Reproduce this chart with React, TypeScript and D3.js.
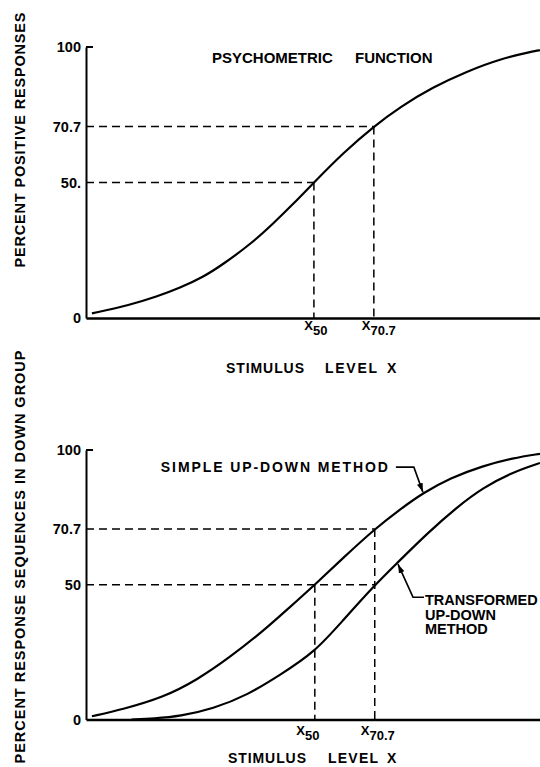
import React, { useEffect, useRef } from "react";
import * as d3 from "d3";

// Upper panel: psychometric function (stimulus level, percent positive)
const psyStimulus = [1.3, 9.7, 15.6, 20.7, 25.8, 30.2, 36.8, 41.2, 45.6, 50.2, 56.6, 63.4, 69.2, 76.4, 83.9, 91.2, 98.5, 100];
const psyPercent = [1.7, 4.8, 7.9, 11.1, 15.1, 19.8, 28.0, 34.8, 42.0, 50.0, 60.9, 70.7, 77.9, 85.2, 91.0, 95.6, 98.4, 98.8];

// Lower panel: simple up-down method
const simpleStimulus = [1.3, 8.1, 17, 24.4, 31.7, 39, 44.3, 50.4, 56.6, 63.6, 69.2, 74.2, 80.2, 87.4, 94, 100];
const simplePercent = [1.2, 3.8, 8.2, 14.6, 23.1, 32.8, 40.8, 50.0, 59.9, 70.7, 78.0, 84.0, 89.6, 94.1, 97.0, 98.6];

// Lower panel: transformed up-down method
const transStimulus = [10, 15, 20.7, 28, 35.5, 42.7, 50.4, 56.6, 63.6, 68.5, 75.1, 81.7, 87.4, 94, 100];
const transPercent = [0, 0.4, 1.2, 4.0, 9.0, 16.5, 25.0, 36.8, 49.9, 58.0, 69.0, 78.8, 86.0, 91.8, 95.2];

const yTicks = [0, 50, 70.7, 100];
const psyTickLabels = ["0", "50.", "70.7", "100"];
const sequenceTickLabels = ["0", "50", "70.7", "100"];

// x positions of the 50 and 70.7 percent points
const psyMarks = [50.2, 63.4];
const seqMarks = [50.4, 63.6];
const markSubs = ["50", "70.7"];

const FONT = "'Liberation Sans', Arial, Helvetica, sans-serif";

type Pt = [number, number];
const zip = (a: number[], b: number[]): Pt[] => a.map((v, i) => [v, b[i]]);

const App: React.FC = () => {
  const svgRef = useRef<SVGSVGElement | null>(null);

  useEffect(() => {
    if (!svgRef.current) return;
    const svg = d3.select(svgRef.current);
    svg.selectAll("*").remove();

    svg
      .append("defs")
      .append("marker")
      .attr("id", "arrow")
      .attr("viewBox", "0 0 9 6")
      .attr("refX", 9)
      .attr("refY", 3)
      .attr("markerWidth", 9)
      .attr("markerHeight", 6)
      .attr("markerUnits", "userSpaceOnUse")
      .attr("orient", "auto")
      .append("path")
      .attr("d", "M0,0L9,3L0,6Z")
      .attr("fill", "#000");

    const x = d3.scaleLinear().domain([0, 100]).range([86, 540]);
    const yTop = d3.scaleLinear().domain([0, 100]).range([318, 47]);
    const yBot = d3.scaleLinear().domain([0, 100]).range([719.5, 450]);

    const drawPanel = (
      y: d3.ScaleLinear<number, number>,
      tickLabels: string[],
      hGuides: Pt[], // [percent, stimulus end]
      vGuides: Pt[], // [stimulus, percent top]
      marks: number[],
      markDx: number[],
      markBase: number,
      xWords: [string, number, number][],
      xTitleBase: number
    ) => {
      const g = svg.append("g");

      // y axis with labels
      const ya = g
        .append("g")
        .attr("transform", `translate(${x(0)},0)`)
        .call(
          d3
            .axisLeft(y)
            .tickValues(yTicks)
            .tickSize(0)
            .tickSizeOuter(0)
            .tickPadding(5)
            .tickFormat((_, i) => tickLabels[i])
        );
      ya.select(".domain").attr("stroke", "#000").attr("stroke-width", 2);
      ya.selectAll("text")
        .attr("font-family", FONT)
        .attr("font-weight", "bold")
        .attr("font-size", 14.5)
        .attr("fill", "#000");

      // inward tick at 100
      g.append("line")
        .attr("x1", x(0))
        .attr("x2", x(0) + 7)
        .attr("y1", y(100))
        .attr("y2", y(100))
        .attr("stroke", "#000")
        .attr("stroke-width", 2);

      // x axis line
      const xa = g
        .append("g")
        .attr("transform", `translate(0,${y(0)})`)
        .call(d3.axisBottom(x).tickValues([]).tickSizeOuter(0));
      xa.select(".domain").attr("stroke", "#000").attr("stroke-width", 2.5);

      // dashed guides
      hGuides.forEach(([p, s]) => {
        g.append("line")
          .attr("x1", x(0))
          .attr("x2", x(s))
          .attr("y1", y(p))
          .attr("y2", y(p))
          .attr("stroke", "#000")
          .attr("stroke-width", 1.5)
          .attr("stroke-dasharray", "8,5");
      });
      vGuides.forEach(([s, p]) => {
        g.append("line")
          .attr("x1", x(s))
          .attr("x2", x(s))
          .attr("y1", y(p))
          .attr("y2", y(0))
          .attr("stroke", "#000")
          .attr("stroke-width", 1.5)
          .attr("stroke-dasharray", "8,5");
      });

      // X50 / X70.7 labels
      marks.forEach((m, i) => {
        const t = g
          .append("text")
          .attr("x", x(m) + markDx[i])
          .attr("y", markBase)
          .attr("text-anchor", "middle")
          .attr("font-family", FONT)
          .attr("font-weight", "bold")
          .attr("fill", "#000");
        t.append("tspan").attr("font-size", 13).text("X");
        t.append("tspan").attr("font-size", 13).attr("dy", 5).text(markSubs[i]);
      });

      // x axis title
      xWords.forEach(([w, px, len]) => {
        g.append("text")
          .attr("x", px)
          .attr("y", xTitleBase)
          .attr("font-family", FONT)
          .attr("font-weight", "bold")
          .attr("font-size", 14)
          .attr("textLength", len)
          .attr("lengthAdjust", "spacing")
          .attr("fill", "#000")
          .text(w);
      });
      return g;
    };

    const lineGen = (y: d3.ScaleLinear<number, number>) =>
      d3
        .line<Pt>()
        .x((d) => x(d[0]))
        .y((d) => y(d[1]))
        .curve(d3.curveBasis);

    // ---------- upper panel ----------
    const top = drawPanel(
      yTop,
      psyTickLabels,
      [
        [70.7, psyMarks[1]],
        [50, psyMarks[0]],
      ],
      [
        [psyMarks[0], 50],
        [psyMarks[1], 70.7],
      ],
      psyMarks,
      [2, 5],
      330,
      [
        ["STIMULUS", 226, 78],
        ["LEVEL", 325, 52],
        ["X", 387, 11],
      ],
      373
    );
    top
      .append("path")
      .datum(zip(psyStimulus, psyPercent))
      .attr("d", lineGen(yTop))
      .attr("fill", "none")
      .attr("stroke", "#000")
      .attr("stroke-width", 2.2);

    top.append("text").attr("x", 212).attr("y", 63).attr("font-family", FONT).attr("font-weight", "bold").attr("font-size", 15).text("PSYCHOMETRIC");
    top.append("text").attr("x", 355).attr("y", 63).attr("font-family", FONT).attr("font-weight", "bold").attr("font-size", 15).text("FUNCTION");

    top
      .append("text")
      .attr("transform", "translate(25,140) rotate(-90)")
      .attr("text-anchor", "middle")
      .attr("font-family", FONT)
      .attr("font-weight", "bold")
      .attr("font-size", 14.5)
      .attr("textLength", 255)
      .attr("lengthAdjust", "spacing")
      .text("PERCENT POSITIVE RESPONSES");

    // ---------- lower panel ----------
    const bot = drawPanel(
      yBot,
      sequenceTickLabels,
      [
        [70.7, seqMarks[1]],
        [50, seqMarks[1]],
      ],
      [
        [seqMarks[0], 50],
        [seqMarks[1], 70.7],
      ],
      seqMarks,
      [-7, 3],
      735,
      [
        ["STIMULUS", 228, 78],
        ["LEVEL", 328, 50],
        ["X", 387, 11],
      ],
      763
    );
    const simple = zip(simpleStimulus, simplePercent);
    const trans = zip(transStimulus, transPercent);
    [simple, trans].forEach((s) =>
      bot
        .append("path")
        .datum(s)
        .attr("d", lineGen(yBot))
        .attr("fill", "none")
        .attr("stroke", "#000")
        .attr("stroke-width", 2.2)
    );

    bot
      .append("text")
      .attr("transform", "translate(25,557) rotate(-90)")
      .attr("text-anchor", "middle")
      .attr("font-family", FONT)
      .attr("font-weight", "bold")
      .attr("font-size", 14.5)
      .attr("textLength", 413)
      .attr("lengthAdjust", "spacing")
      .text("PERCENT RESPONSE SEQUENCES IN DOWN GROUP");

    // annotation: simple up-down
    const sTip = simple[11];
    const sx = x(sTip[0]);
    const sy = yBot(sTip[1]);
    bot
      .append("path")
      .attr("d", `M${sx - 27},${sy - 26}L${sx - 9},${sy - 26}L${sx},${sy - 1}`)
      .attr("fill", "none")
      .attr("stroke", "#000")
      .attr("stroke-width", 1.6)
      .attr("marker-end", "url(#arrow)");
    bot
      .append("text")
      .attr("x", sx - 35)
      .attr("y", sy - 21)
      .attr("text-anchor", "end")
      .attr("font-family", FONT)
      .attr("font-weight", "bold")
      .attr("font-size", 14)
      .attr("textLength", 227)
      .attr("lengthAdjust", "spacing")
      .text("SIMPLE UP-DOWN METHOD");

    // annotation: transformed up-down
    const tTip = trans[9];
    const tx = x(tTip[0]);
    const ty = yBot(tTip[1]);
    bot
      .append("path")
      .attr("d", `M${tx + 27},${ty + 34}L${tx + 16},${ty + 34}L${tx + 1},${ty + 1}`)
      .attr("fill", "none")
      .attr("stroke", "#000")
      .attr("stroke-width", 1.6)
      .attr("marker-end", "url(#arrow)");
    ["TRANSFORMED", "UP-DOWN", "METHOD"].forEach((w, i) => {
      bot
        .append("text")
        .attr("x", tx + 28)
        .attr("y", ty + 42 + i * 14.5)
        .attr("font-family", FONT)
        .attr("font-weight", "bold")
        .attr("font-size", 14.5)
        .text(w);
    });
  }, []);

  return (
    <svg
      ref={svgRef}
      width={540}
      height={767}
      style={{ position: "absolute", left: 0, top: 0, background: "#fff" }}
    />
  );
};

export default App;
